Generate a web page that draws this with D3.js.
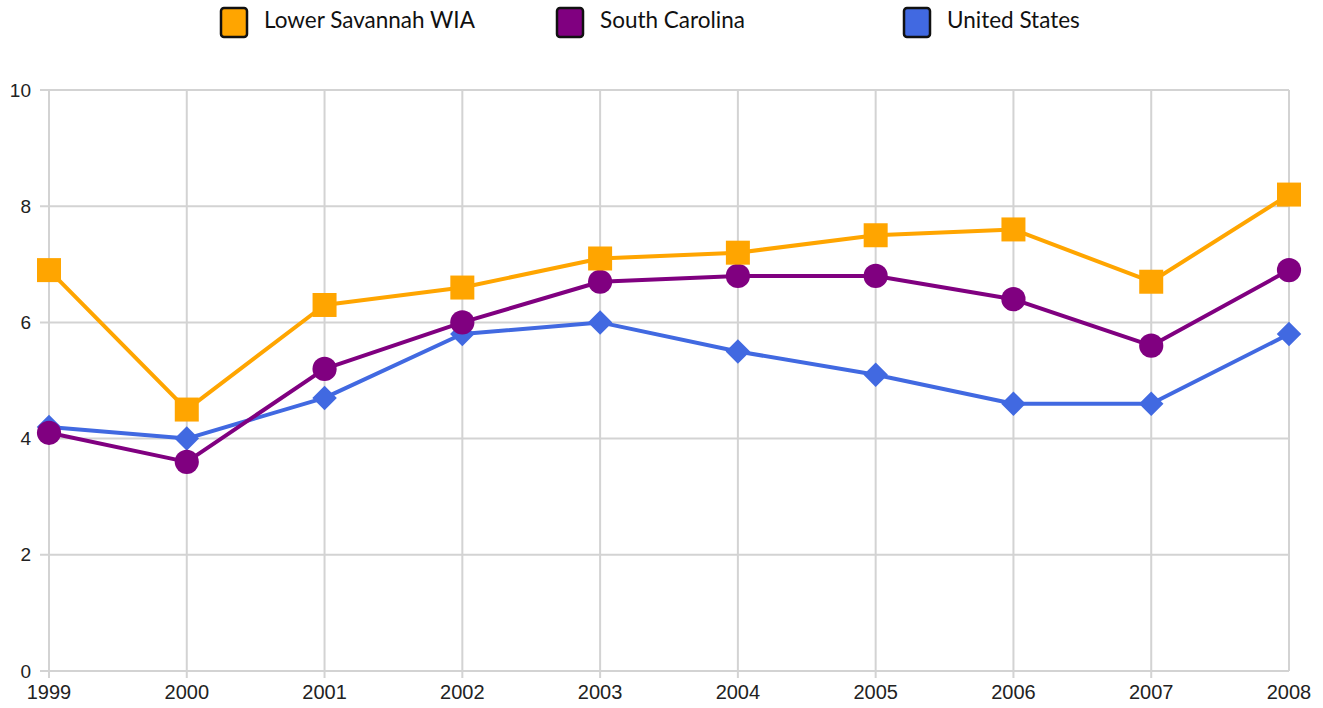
<!DOCTYPE html>
<html><head><meta charset="utf-8">
<script src="https://cdn.jsdelivr.net/npm/d3@7"></script>
<style>body{margin:0;background:#fff}svg{display:block}</style>
</head><body><svg id="c" width="1323" height="708"></svg>
<script>
const years = ["1999","2000","2001","2002","2003","2004","2005","2006","2007","2008"];
const lowerSavannah = [6.9,4.5,6.3,6.6,7.1,7.2,7.5,7.6,6.7,8.2];
const southCarolina = [4.1,3.6,5.2,6.0,6.7,6.8,6.8,6.4,5.6,6.9];
const unitedStates = [4.2,4.0,4.7,5.8,6.0,5.5,5.1,4.6,4.6,5.8];
const yTicks = [0,2,4,6,8,10];
const seriesNames = ["Lower Savannah WIA","South Carolina","United States"];
const colors = ["#FFA500","#800080","#4169E1"];
const shapes = ["square","circle","diamond"];

const svg = d3.select("#c");
const L=49,R=1289,T=90,B=671;
const x = d3.scalePoint().domain(years).range([L,R]);
const y = d3.scaleLinear().domain([0,10]).range([B,T]);
const grid = "#d3d3d3";

const g = svg.append("g");
g.selectAll("line.h").data(yTicks).join("line")
  .attr("x1",L-9).attr("x2",R).attr("y1",d=>y(d)).attr("y2",d=>y(d))
  .attr("stroke",grid).attr("stroke-width",2);
g.selectAll("line.v").data(years).join("line")
  .attr("x1",d=>x(d)).attr("x2",d=>x(d)).attr("y1",T).attr("y2",(d,i)=>i===years.length-1?B:B+7)
  .attr("stroke",grid).attr("stroke-width",2);

g.selectAll("text.y").data(yTicks).join("text")
  .attr("x",31).attr("y",d=>y(d)).attr("dy","0.35em").attr("text-anchor","end")
  .attr("font-family","Liberation Sans, Arial, sans-serif").attr("font-size",19).attr("fill","#222")
  .text(d=>d);
g.selectAll("text.x").data(years).join("text")
  .attr("x",d=>x(d)).attr("y",699).attr("text-anchor","middle")
  .attr("font-family","Liberation Sans, Arial, sans-serif").attr("font-size",20).attr("fill","#222")
  .text(d=>d);

const data = [lowerSavannah,southCarolina,unitedStates];
const line = d3.line().x((d,i)=>x(years[i])).y(d=>y(d));
const sym = {square:d3.symbolSquare,circle:d3.symbolCircle,diamond:d3.symbolSquare};
const sizes = {square:576,circle:460,diamond:300};
const rot = {square:0,circle:0,diamond:45};
[2,1,0].forEach(k=>{
  svg.append("path").datum(data[k]).attr("d",line).attr("fill","none")
    .attr("stroke",colors[k]).attr("stroke-width",4).attr("stroke-linejoin","round");
  svg.append("g").selectAll("path").data(data[k]).join("path")
    .attr("transform",(d,i)=>`translate(${x(years[i])},${y(d)}) rotate(${rot[shapes[k]]})`)
    .attr("d",d3.symbol().type(sym[shapes[k]]).size(sizes[shapes[k]]))
    .attr("fill",colors[k]);
});

const lx=[221,557,904];
const leg = svg.append("g");
seriesNames.forEach((n,i)=>{
  leg.append("rect").attr("x",lx[i]).attr("y",8).attr("width",26).attr("height",29).attr("rx",3)
    .attr("fill",colors[i]).attr("stroke","#111").attr("stroke-width",2.5);
  leg.append("text").attr("x",lx[i]+43).attr("y",28).attr("font-family","Lato, 'Open Sans', sans-serif")
    .attr("font-size",22.5).attr("fill","#111").text(n);
});
</script></body></html>
